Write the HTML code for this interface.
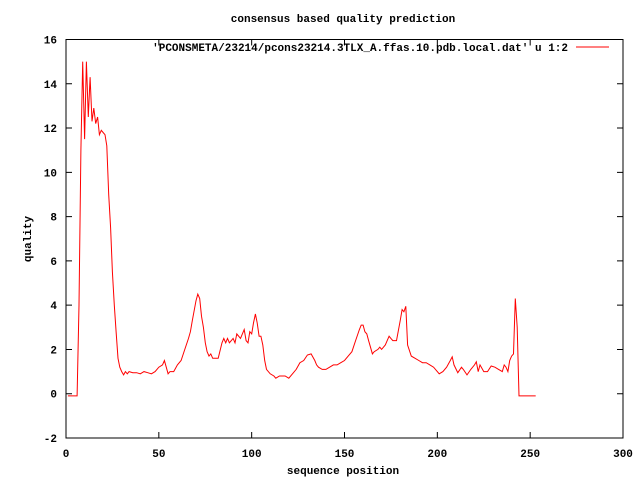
<!DOCTYPE html>
<html><head><meta charset="utf-8"><style>
html,body{margin:0;padding:0;background:#fff;}
svg text{font-family:"Liberation Mono",monospace;font-weight:bold;font-size:11px;fill:#000;}
</style></head><body>
<svg id="chart" width="640" height="480" xmlns="http://www.w3.org/2000/svg">
<rect width="640" height="480" fill="#fff"/>
<text x="343" y="22" text-anchor="middle">consensus based quality prediction</text>
<text x="343" y="474" text-anchor="middle">sequence position</text>
<text x="31" y="239" text-anchor="middle" transform="rotate(-90 31 239)">quality</text>
<g id="axes"></g>
<rect x="66" y="39.5" width="557" height="398.5" fill="none" stroke="#000" stroke-width="1"/>
<text x="568" y="51" text-anchor="end">'PCONSMETA/23214/pcons23214.3TLX_A.ffas.10.pdb.local.dat' u 1:2</text>
<line x1="576" y1="47" x2="609" y2="47" stroke="#f00" stroke-width="1"/>
<g id="series"></g>
</svg>
<script>
const xTicks=[0,50,100,150,200,250,300];
const yTicks=[-2,0,2,4,6,8,10,12,14,16];
const positions=[1,6,7,8,9,10,11,12,13,14,15,16,17,18,19,20,21,22,23,24,25,26,27,28,29,30,31,32,33,34,36,38,40,42,44,46,48,50,52,53,55,56,58,60,62,64,66,67,68,70,71,72,73,74,75,76,77,78,79,80,82,84,85,86,87,88,90,91,92,94,96,97,98,99,100,101,102,103,104,105,106,107,108,110,112,113,115,118,120,122,124,126,128,130,132,134,135,136,138,140,142,144,146,148,150,152,154,156,158,159,160,161,162,163,164,165,166,168,169,170,172,174,175,176,178,180,181,182,183,184,186,188,190,192,194,196,198,200,201,203,205,207,208,209,211,213,214,216,218,220,221,222,223,225,227,229,231,233,235,236,237,238,239,240,241,242,243,244,253];
const quality=[-0.1,-0.1,4,11,15,11.5,15,12.5,14.3,12.3,12.9,12.2,12.5,11.7,11.9,11.8,11.7,11.2,9,7.5,5.5,4,2.8,1.6,1.2,1.0,0.85,1.0,0.9,1.0,0.95,0.95,0.9,1.0,0.95,0.9,1.0,1.2,1.3,1.5,0.9,1.0,1.0,1.3,1.5,2.0,2.5,2.8,3.3,4.2,4.5,4.3,3.5,3.0,2.3,1.9,1.7,1.8,1.6,1.6,1.6,2.3,2.5,2.3,2.5,2.3,2.5,2.3,2.7,2.5,2.9,2.4,2.3,2.8,2.7,3.2,3.6,3.2,2.6,2.6,2.2,1.5,1.1,0.9,0.8,0.7,0.8,0.8,0.7,0.9,1.1,1.4,1.5,1.75,1.8,1.5,1.3,1.2,1.1,1.1,1.2,1.3,1.3,1.4,1.5,1.7,1.9,2.4,2.9,3.1,3.1,2.8,2.7,2.4,2.1,1.8,1.9,2.0,2.1,2.0,2.2,2.6,2.5,2.4,2.4,3.3,3.8,3.7,3.95,2.2,1.7,1.6,1.5,1.4,1.4,1.3,1.2,1.0,0.9,1.0,1.2,1.5,1.67,1.3,0.95,1.2,1.1,0.85,1.1,1.3,1.44,1.0,1.3,1.0,1.0,1.25,1.2,1.1,1.0,1.3,1.2,1.0,1.5,1.7,1.8,4.3,3.0,-0.1,-0.1];
const X0=66,X1=623,Y0=438,Y1=39.5;
function sx(v){return X0+(v-0)/(300-0)*(X1-X0);}
function sy(v){return Y0-(v-(-2))/(16-(-2))*(Y0-Y1);}
const NS='http://www.w3.org/2000/svg';
const axes=document.getElementById('axes');
xTicks.forEach(t=>{
  const x=sx(t);
  const l=document.createElementNS(NS,'path');
  
  
  l.setAttribute('d',`M${x} ${Y0}v-6M${x} ${Y1}v6`);
  l.setAttribute('stroke','#000');
  axes.appendChild(l);
  const tx=document.createElementNS(NS,'text');
  
  
  tx.setAttribute('x',x);tx.setAttribute('y',457);tx.setAttribute('text-anchor','middle');
  tx.textContent=t;axes.appendChild(tx);
});
yTicks.forEach(t=>{
  const y=sy(t);
  const l=document.createElementNS(NS,'path');
  
  
  l.setAttribute('d',`M${X0} ${y}h6M${X1} ${y}h-6`);
  l.setAttribute('stroke','#000');
  axes.appendChild(l);
  const tx=document.createElementNS(NS,'text');
  
  
  tx.setAttribute('x',57);tx.setAttribute('y',y+4);tx.setAttribute('text-anchor','end');
  tx.textContent=t;axes.appendChild(tx);
});
const d=positions.map((p,i)=>(i?'L':'M')+sx(p).toFixed(1)+' '+sy(quality[i]).toFixed(1)).join('');
const line=document.createElementNS(NS,'path');


line.setAttribute('d',d);line.setAttribute('fill','none');line.setAttribute('stroke','#f00');line.setAttribute('stroke-width','1');
document.getElementById('series').appendChild(line);
</script>
</body></html>
